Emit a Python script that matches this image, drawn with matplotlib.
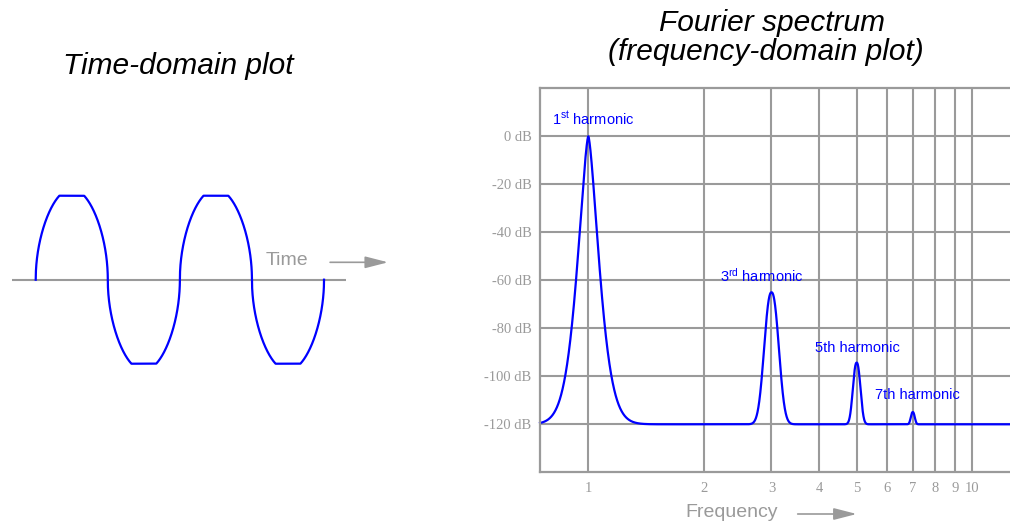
import numpy as np
import matplotlib
matplotlib.use("Agg")
from matplotlib import pyplot as plt
from matplotlib.ticker import FixedLocator, NullLocator

plt.rcParams['font.family'] = ['Liberation Sans', 'DejaVu Sans']
plt.rcParams['mathtext.fontset'] = 'custom'
plt.rcParams['mathtext.rm'] = 'Liberation Sans'
plt.rcParams['mathtext.it'] = 'Liberation Sans:italic'

GRAY = '#9a9a9a'
BLUE = '#0000ff'

# time-domain wave: rounded, clipped wave, two cycles
n_cycles = 2
wave_power = 0.5
clip_level = 0.926

# spectrum: harmonic number, peak level (dB), peak width (decades), peak shape exponent
harmonics = [1, 3, 5, 7]
peak_db = [0, -65, -94.3, -114.9]
peak_width = [0.0409, 0.025, 0.013, 0.0068]
peak_shape = [1.5, 2.3, 2.3, 2.3]
floor_db = -120

db_ticks = [0, -20, -40, -60, -80, -100, -120]
db_labels = ['0 dB', '-20 dB', '-40 dB', '-60 dB', '-80 dB', '-100 dB', '-120 dB']
freq_ticks = [1, 2, 3, 4, 5, 6, 7, 8, 9, 10]

harm_labels = [r'1$^{\rm st}$ harmonic', r'3$^{\rm rd}$ harmonic', '5th harmonic', '7th harmonic']
harm_label_x = [0.803, 2.20, 3.89, 5.59]
harm_label_y = [7.4, -57.9, -88.0, -107.9]

fig = plt.figure(figsize=(10.1, 5.23), dpi=100)

# ---- left: time-domain ----
axl = fig.add_axes([0, 1 - 400 / 523, 400 / 1010, 250 / 523])
axl.set_xlim(-0.2477, 2.527)
axl.set_ylim(-1.326, 1.430)
axl.axis('off')
t = np.linspace(0, n_cycles, 4000)
s = np.sin(2 * np.pi * t)
wave = np.clip(np.sign(s) * np.abs(s) ** wave_power, -clip_level, clip_level)
axl.plot([-0.166, 2.15], [0, 0], color=GRAY, lw=1.5, solid_capstyle='butt')
axl.plot(t, wave, color=BLUE, lw=1.6)
axl.text(1.741, 0.2095, 'Time', color=GRAY, fontsize=14, ha='center', va='center')
axl.annotate('', xy=(2.444, 0.192), xytext=(2.042, 0.192),
             arrowprops=dict(arrowstyle='-|>,head_length=0.7,head_width=0.18',
                             color=GRAY, lw=1.2, mutation_scale=20, shrinkA=0, shrinkB=0))

fig.text(178.7 / 1010, 1 - 66 / 523, 'Time-domain plot', fontsize=21.5, style='italic',
         ha='center', va='center')
fig.text(772.3 / 1010, 1 - 23 / 523, 'Fourier spectrum', fontsize=21.5, style='italic',
         ha='center', va='center')
fig.text(766.2 / 1010, 1 - 51.7 / 523, '(frequency-domain plot)', fontsize=21.5, style='italic',
         ha='center', va='center')

# ---- right: spectrum ----
ax = fig.add_axes([540 / 1010, (523 - 472.3) / 523, 470 / 1010, 384 / 523])
ax.set_xscale('log')
ax.set_xlim(0.7485, 12.54)
ax.set_ylim(-140, 20)

f = np.logspace(np.log10(0.7485), np.log10(12.54), 6000)
spec = np.full_like(f, floor_db, dtype=float)
for h, p, w, sh in zip(harmonics, peak_db, peak_width, peak_shape):
    d = np.abs(np.log10(f) - np.log10(h))
    spec += (p - floor_db) * np.exp(-(d / w) ** sh)

ax.xaxis.set_major_locator(FixedLocator(freq_ticks))
ax.xaxis.set_minor_locator(NullLocator())
ax.set_xticklabels([str(v) for v in freq_ticks])
ax.set_yticks(db_ticks)
ax.set_yticklabels(db_labels)
ax.grid(True, which='major', color=GRAY, lw=1.5)
ax.set_axisbelow(True)
ax.tick_params(length=0, labelcolor=GRAY, labelsize=10.5)
ax.tick_params(axis='y', pad=6)
ax.tick_params(axis='x', pad=7)
for lab in ax.get_xticklabels() + ax.get_yticklabels():
    lab.set_fontfamily('Liberation Serif')
for side in ['left', 'top', 'bottom']:
    ax.spines[side].set_color(GRAY)
    ax.spines[side].set_linewidth(1.6)
ax.spines['right'].set_visible(False)

ax.plot(f, spec, color=BLUE, lw=1.6, clip_on=False)

for lab, x, y in zip(harm_labels, harm_label_x, harm_label_y):
    ax.text(x, y, lab, color=BLUE, fontsize=10.5, ha='left', va='center')

fig.text(731.3 / 1010, 1 - 512.7 / 523, 'Frequency', color=GRAY, fontsize=14,
         ha='center', va='center')
ax.annotate('', xy=(856.7 / 1010, 1 - 514 / 523), xytext=(797.7 / 1010, 1 - 514 / 523),
            xycoords='figure fraction', textcoords='figure fraction',
            arrowprops=dict(arrowstyle='-|>,head_length=0.7,head_width=0.18',
                            color=GRAY, lw=1.2, mutation_scale=20, shrinkA=0, shrinkB=0))

fig.savefig('out.png', dpi=100)
